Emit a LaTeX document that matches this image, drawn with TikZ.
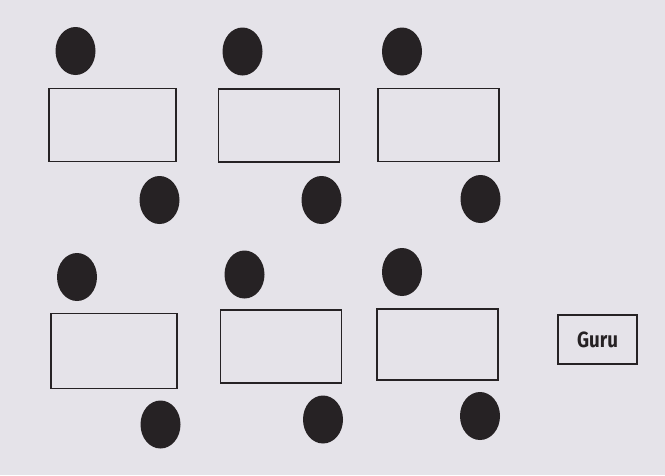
\documentclass[tikz,border=0pt]{standalone}
\usepackage{fontspec}
\setmainfont{Fira Sans}
\usepackage{xcolor}
\usetikzlibrary{shapes.geometric, positioning}

\definecolor{kertas}{RGB}{229,227,233}
\definecolor{tinta}{RGB}{38,34,36}

\begin{document}
\begin{tikzpicture}[x=1pt, y=-1pt, on grid,
    meja/.style={draw=tinta, line width=1.8pt, rectangle, minimum width=121pt, minimum height=73pt, inner sep=0pt},
    siswa/.style={fill=tinta, ellipse, minimum width=40pt, minimum height=48pt, inner sep=0pt},
    guru/.style={draw=tinta, line width=1.6pt, rectangle, minimum width=79pt, minimum height=49pt, inner sep=0pt, font=\fontsize{22}{22}\selectfont\bfseries, text=tinta}]

    % Latar kertas
    \fill[kertas] (0,0) rectangle (665,475);
    \useasboundingbox (0,0) rectangle (665,475);

    % Baris depan
    \node[meja, minimum width=127pt] (M1) at (112.5,125) {};
    \node[meja] (M2) at (279,125.5) {};
    \node[meja] (M3) at (438.5,125) {};

    % Baris belakang
    \node[meja, minimum width=126pt, minimum height=75pt] (M4) at (114,351) {};
    \node[meja] (M5) at (281,346.5) {};
    \node[meja, minimum height=71pt] (M6) at (437.5,344.5) {};

    % Siswa di tiap meja
    \node[siswa] (S1) [above left=74pt and 37pt of M1] {};
    \node[siswa] (S2) [below right=75pt and 47pt of M1] {};
    \node[siswa] (S3) [above left=74pt and 36.5pt of M2] {};
    \node[siswa] (S4) [below right=74.5pt and 42.5pt of M2] {};
    \node[siswa] (S5) [above left=73.5pt and 36.5pt of M3] {};
    \node[siswa] (S6) [below right=74pt and 42pt of M3] {};
    \node[siswa] (S7) [above left=74pt and 37pt of M4] {};
    \node[siswa] (S8) [below right=73.5pt and 46.5pt of M4] {};
    \node[siswa] (S9) [above left=72pt and 36.5pt of M5] {};
    \node[siswa] (S10) [below right=73pt and 42pt of M5] {};
    \node[siswa] (S11) [above left=72.5pt and 35.5pt of M6] {};
    \node[siswa] (S12) [below right=71.5pt and 42.5pt of M6] {};

    % Meja guru
    \node[guru] (G) at (597.5,339.5) {\scalebox{0.85}[1]{Guru}};
\end{tikzpicture}
\end{document}
